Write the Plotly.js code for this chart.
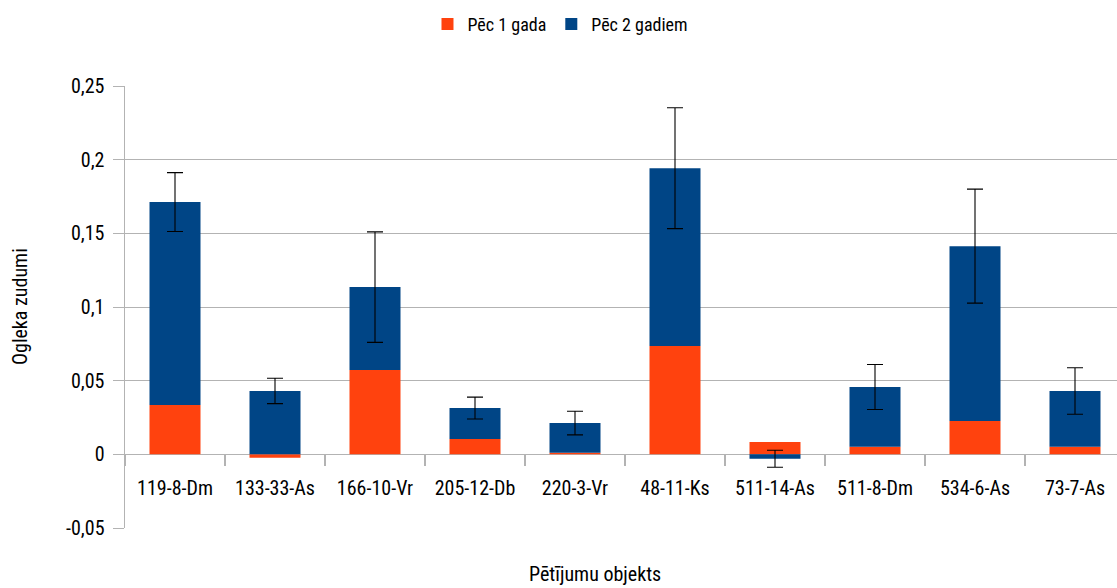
<!DOCTYPE html>
<html>
<head>
<meta charset="utf-8">
<script src="https://cdn.plot.ly/plotly-3.0.1.min.js"></script>
<style>html,body{margin:0;padding:0;background:#fff;}#chart{width:1117px;height:588px;}</style>
</head>
<body>
<div id="chart"></div>
<script>
const categories = ['119-8-Dm','133-33-As','166-10-Vr','205-12-Db','220-3-Vr','48-11-Ks','511-14-As','511-8-Dm','534-6-As','73-7-As'];
const afterOneYear = [0.0334, -0.0023, 0.0572, 0.0104, 0.0011, 0.0735, 0.0083, 0.0052, 0.0226, 0.0052];
const afterTwoYears = [0.1378, 0.0430, 0.0563, 0.0210, 0.0201, 0.1207, -0.0030, 0.0405, 0.1187, 0.0378];
const twoYearError = [0.0200, 0.0086, 0.0375, 0.0074, 0.0080, 0.0410, 0.0058, 0.0153, 0.0387, 0.0158];
const yTickValues = [-0.05, 0, 0.05, 0.1, 0.15, 0.2, 0.25];
const yTickLabels = ['-0,05', '0', '0,05', '0,1', '0,15', '0,2', '0,25'];
const seriesNames = ['Pēc 1 gada', 'Pēc 2 gadiem'];
const yTitle = 'Ogleka zudumi';
const xTitle = 'Pētījumu objekts';

const FONT = '"Roboto Condensed", "DejaVu Sans Condensed", sans-serif';

const traces = [
  {
    type: 'bar', x: categories, y: afterOneYear, name: seriesNames[0],
    marker: {color: '#ff420e', line: {width: 0}}, width: 0.51
  },
  {
    type: 'bar', x: categories, y: afterTwoYears, name: seriesNames[1],
    marker: {color: '#004586', line: {width: 0}}, width: 0.51,
    error_y: {type: 'data', array: twoYearError, visible: true, color: '#000000', thickness: 1.1, width: 8}
  }
];

const layout = {
  width: 1117, height: 588,
  margin: {l: 125, r: 0, t: 86, b: 60},
  paper_bgcolor: '#ffffff', plot_bgcolor: '#ffffff',
  barmode: 'relative',
  font: {family: FONT, size: 20, color: '#000000'},
  showlegend: true,
  legend: {orientation: 'h', x: 0.439, xanchor: 'center', y: 0.99, yref: 'container', yanchor: 'top',
           traceorder: 'normal', font: {family: FONT, size: 18}, itemwidth: 30},
  xaxis: {
    type: 'category', range: [-0.5, 9.42], anchor: 'free', position: 1/6,
    ticks: 'outside', tickson: 'boundaries', ticklen: 11, tickcolor: '#b3b3b3', tickwidth: 1.5,
    showgrid: false, showline: false, zeroline: false,
    tickfont: {family: FONT, size: 20}, ticklabelstandoff: 20
  },
  yaxis: {
    range: [-0.05, 0.25], tickvals: yTickValues, ticktext: yTickLabels,
    showgrid: true, gridcolor: '#b3b3b3', gridwidth: 1,
    zeroline: true, zerolinecolor: '#b3b3b3', zerolinewidth: 1,
    showline: true, linecolor: '#b3b3b3', linewidth: 1.5,
    ticks: 'outside', ticklen: 11, tickcolor: '#b3b3b3', tickwidth: 1,
    tickfont: {family: FONT, size: 20}, ticklabelstandoff: 4
  },
  annotations: [
    {text: xTitle, xref: 'paper', yref: 'paper', x: (595 - 125) / 992, y: (528 - 588) / 442,
     xanchor: 'center', yanchor: 'bottom', showarrow: false, font: {family: FONT, size: 20}},
    {text: yTitle, xref: 'paper', yref: 'paper', x: (20 - 125) / 992, y: 0.5, textangle: -90,
     xanchor: 'center', yanchor: 'middle', showarrow: false, font: {family: FONT, size: 20}}
  ]
};

Plotly.newPlot('chart', traces, layout, {displayModeBar: false, staticPlot: true});
</script>
</body>
</html>
